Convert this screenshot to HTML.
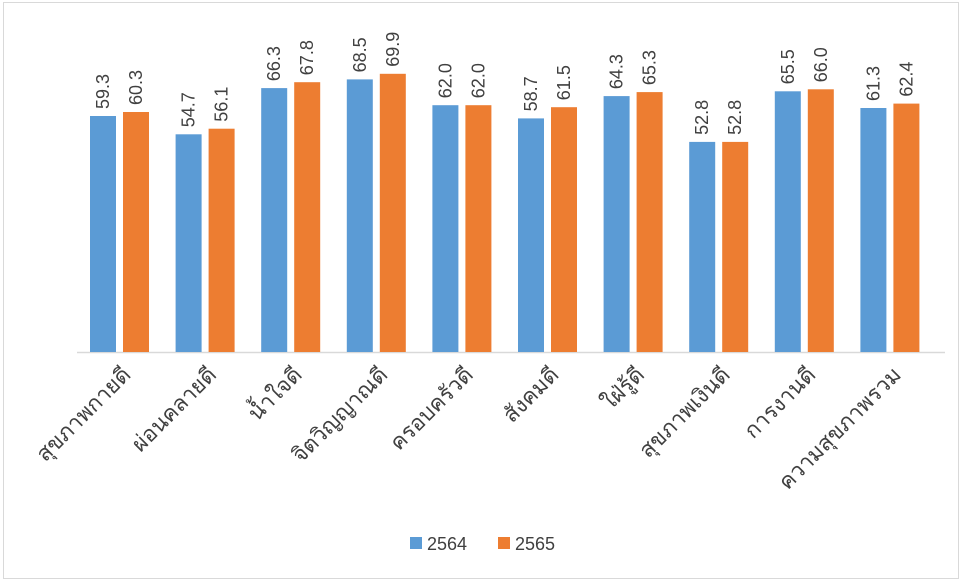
<!DOCTYPE html>
<html><head><meta charset="utf-8"><style>
body{margin:0;background:#fff}
svg text{font-family:"Liberation Sans","DejaVu Sans",sans-serif;fill:#404040}
</style></head><body>
<svg width="963" height="582" xmlns="http://www.w3.org/2000/svg">
<rect x="3.5" y="2.5" width="955" height="576" fill="#fff" stroke="#d9d9d9"/>
<line x1="77" y1="352.5" x2="945" y2="352.5" stroke="#d9d9d9" stroke-width="1.5"/>
<g fill="#5b9bd5">
<rect x="90" y="116.0" width="26" height="236.0"/>
<rect x="175.6" y="134.3" width="26" height="217.7"/>
<rect x="261.2" y="88.1" width="26" height="263.9"/>
<rect x="346.8" y="79.4" width="26" height="272.6"/>
<rect x="432.4" y="105.2" width="26" height="246.8"/>
<rect x="518" y="118.4" width="26" height="233.6"/>
<rect x="603.6" y="96.1" width="26" height="255.9"/>
<rect x="689.2" y="141.9" width="26" height="210.1"/>
<rect x="774.8" y="91.3" width="26" height="260.7"/>
<rect x="860.4" y="108.0" width="26" height="244.0"/>
</g>
<g fill="#ed7d31">
<rect x="123" y="112.0" width="26" height="240.0"/>
<rect x="208.6" y="128.7" width="26" height="223.3"/>
<rect x="294.2" y="82.2" width="26" height="269.8"/>
<rect x="379.8" y="73.8" width="26" height="278.2"/>
<rect x="465.4" y="105.2" width="26" height="246.8"/>
<rect x="551" y="107.2" width="26" height="244.8"/>
<rect x="636.6" y="92.1" width="26" height="259.9"/>
<rect x="722.2" y="141.9" width="26" height="210.1"/>
<rect x="807.8" y="89.3" width="26" height="262.7"/>
<rect x="893.4" y="103.6" width="26" height="248.4"/>
</g>
<g font-size="18">
<text transform="translate(109,109) rotate(-90)">59.3</text>
<text transform="translate(194.6,127.3) rotate(-90)">54.7</text>
<text transform="translate(280.2,81.1) rotate(-90)">66.3</text>
<text transform="translate(365.8,72.4) rotate(-90)">68.5</text>
<text transform="translate(451.4,98.2) rotate(-90)">62.0</text>
<text transform="translate(537,111.4) rotate(-90)">58.7</text>
<text transform="translate(622.6,89.1) rotate(-90)">64.3</text>
<text transform="translate(708.2,134.9) rotate(-90)">52.8</text>
<text transform="translate(793.8,84.3) rotate(-90)">65.5</text>
<text transform="translate(879.4,101.0) rotate(-90)">61.3</text>
<text transform="translate(142,105.0) rotate(-90)">60.3</text>
<text transform="translate(227.6,121.7) rotate(-90)">56.1</text>
<text transform="translate(313.2,75.2) rotate(-90)">67.8</text>
<text transform="translate(398.8,66.8) rotate(-90)">69.9</text>
<text transform="translate(484.4,98.2) rotate(-90)">62.0</text>
<text transform="translate(570,100.2) rotate(-90)">61.5</text>
<text transform="translate(655.6,85.1) rotate(-90)">65.3</text>
<text transform="translate(741.2,134.9) rotate(-90)">52.8</text>
<text transform="translate(826.8,82.3) rotate(-90)">66.0</text>
<text transform="translate(912.4,96.6) rotate(-90)">62.4</text>
</g>
<g font-size="22" text-anchor="end">
<text transform="translate(132,376) rotate(-45)">สุขภาพกายดี</text>
<text transform="translate(217.6,376) rotate(-45)">ผ่อนคลายดี</text>
<text transform="translate(303.2,376) rotate(-45)">น้ำใจดี</text>
<text transform="translate(388.8,376) rotate(-45)">จิตวิญญาณดี</text>
<text transform="translate(474.4,376) rotate(-45)">ครอบครัวดี</text>
<text transform="translate(560,376) rotate(-45)">สังคมดี</text>
<text transform="translate(645.6,376) rotate(-45)">ใฝ่รู้ดี</text>
<text transform="translate(731.2,376) rotate(-45)">สุขภาพเงินดี</text>
<text transform="translate(816.8,376) rotate(-45)">การงานดี</text>
<text transform="translate(902.4,376) rotate(-45)">ความสุขภาพรวม</text>
</g>
<rect x="410" y="537" width="12" height="12" fill="#5b9bd5"/>
<text x="427" y="550" font-size="18">2564</text>
<rect x="498" y="537" width="12" height="12" fill="#ed7d31"/>
<text x="515" y="550" font-size="18">2565</text>
</svg>
</body></html>
